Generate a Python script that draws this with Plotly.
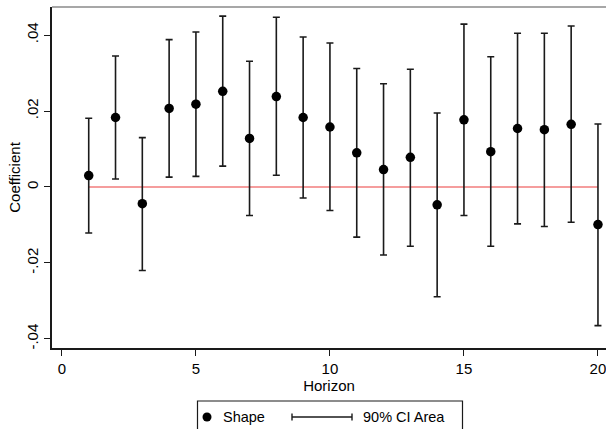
import plotly.graph_objects as go

# Local-projection coefficients by horizon with 90% confidence bounds
horizon = list(range(1, 21))
coef = [0.0030, 0.0183, -0.0044, 0.0207, 0.0218, 0.0252, 0.0128, 0.0238, 0.0183, 0.0158,
        0.0090, 0.0046, 0.0078, -0.0047, 0.0177, 0.0093, 0.0154, 0.0151, 0.0165, -0.0099]
ci_hi = [0.0181, 0.0345, 0.0130, 0.0388, 0.0408, 0.0450, 0.0331, 0.0447, 0.0395, 0.0379,
         0.0312, 0.0272, 0.0310, 0.0195, 0.0429, 0.0343, 0.0405, 0.0405, 0.0424, 0.0166]
ci_lo = [-0.0121, 0.0021, -0.0220, 0.0026, 0.0028, 0.0055, -0.0075, 0.0031, -0.0029, -0.0062,
         -0.0132, -0.0179, -0.0156, -0.0289, -0.0075, -0.0156, -0.0097, -0.0104, -0.0093, -0.0365]

y_ticks = [-0.04, -0.02, 0, 0.02, 0.04]
y_tick_text = ["-.04", "-.02", "0", ".02", ".04"]
x_ticks = [0, 5, 10, 15, 20]

FONT = "Liberation Sans, Arial, sans-serif"
INK = "#1a1a1a"

W, H = 606, 429
ML, MR, MT, MB = 52, 0, 7, 81
PW, PH = W - ML - MR, H - MT - MB


def px(x):
    return (x - ML) / PW


def py(y):
    return (H - MB - y) / PH


fig = go.Figure()

# zero reference line
fig.add_trace(go.Scatter(
    x=[horizon[0], horizon[-1]], y=[0, 0], mode="lines",
    line=dict(color="#f27c7c", width=1.6), showlegend=False, hoverinfo="skip"))

# confidence interval caps
fig.add_trace(go.Scatter(
    x=horizon, y=coef, mode="markers",
    marker=dict(size=1, color="rgba(0,0,0,0)"),
    error_y=dict(type="data", symmetric=False,
                 array=[h - c for h, c in zip(ci_hi, coef)],
                 arrayminus=[c - l for c, l in zip(coef, ci_lo)],
                 color=INK, thickness=1.6, width=3.5),
    showlegend=False, hoverinfo="skip"))

# point estimates
fig.add_trace(go.Scatter(
    x=horizon, y=coef, mode="markers",
    marker=dict(size=9.5, color="black"), showlegend=False))

shapes = []
annotations = []

# top border of the plot region
shapes.append(dict(type="line", xref="paper", yref="paper", x0=0, x1=1, y0=1, y1=1,
                   line=dict(color="#8a8a8a", width=1.5)))

# legend box with its keys
shapes.append(dict(type="rect", xref="paper", yref="paper",
                   x0=px(197.5), x1=px(462.5), y0=py(440), y1=py(401),
                   line=dict(color=INK, width=1.2), fillcolor="white"))
shapes.append(dict(type="circle", xref="paper", yref="paper",
                   x0=px(202.5), x1=px(211.5), y0=py(421.5), y1=py(412.5),
                   line=dict(width=0), fillcolor="black"))
ly = py(417)
shapes.append(dict(type="line", xref="paper", yref="paper",
                   x0=px(292), x1=px(352), y0=ly, y1=ly, line=dict(color=INK, width=1.4)))
for xc in (292, 352):
    shapes.append(dict(type="line", xref="paper", yref="paper",
                       x0=px(xc), x1=px(xc), y0=py(413.5), y1=py(420.5),
                       line=dict(color=INK, width=1.4)))
annotations.append(dict(text="Shape", xref="paper", yref="paper", x=px(221), y=ly,
                        xanchor="left", yanchor="middle", showarrow=False,
                        font=dict(family=FONT, size=14.5, color="black")))
annotations.append(dict(text="90% CI Area", xref="paper", yref="paper", x=px(361), y=ly,
                        xanchor="left", yanchor="middle", showarrow=False,
                        font=dict(family=FONT, size=14.5, color="black")))

fig.update_layout(
    width=W, height=H,
    margin=dict(l=ML, r=MR, t=MT, b=MB, pad=0),
    paper_bgcolor="white", plot_bgcolor="white",
    font=dict(family=FONT, size=14, color="black"),
    shapes=shapes, annotations=annotations,
    showlegend=False,
    xaxis=dict(range=[-0.37, 20.3], tickvals=x_ticks, ticks="outside", ticklen=6,
               tickwidth=1.3, tickcolor=INK, showline=True, linecolor=INK, linewidth=1.5,
               showgrid=False, zeroline=False, ticklabeloverflow="allow",
               tickfont=dict(family=FONT, size=15),
               title=dict(text="Horizon", font=dict(family=FONT, size=15), standoff=2)),
    yaxis=dict(range=[-0.0424, 0.0474], tickvals=y_ticks, ticktext=y_tick_text,
               tickangle=-90, ticks="outside", ticklen=6, tickwidth=1.3, tickcolor=INK,
               showline=True, linecolor=INK, linewidth=1.5, showgrid=False, zeroline=False,
               tickfont=dict(family=FONT, size=15),
               title=dict(text="Coefficient", font=dict(family=FONT, size=15), standoff=0)),
)

fig.write_html("out.html")
